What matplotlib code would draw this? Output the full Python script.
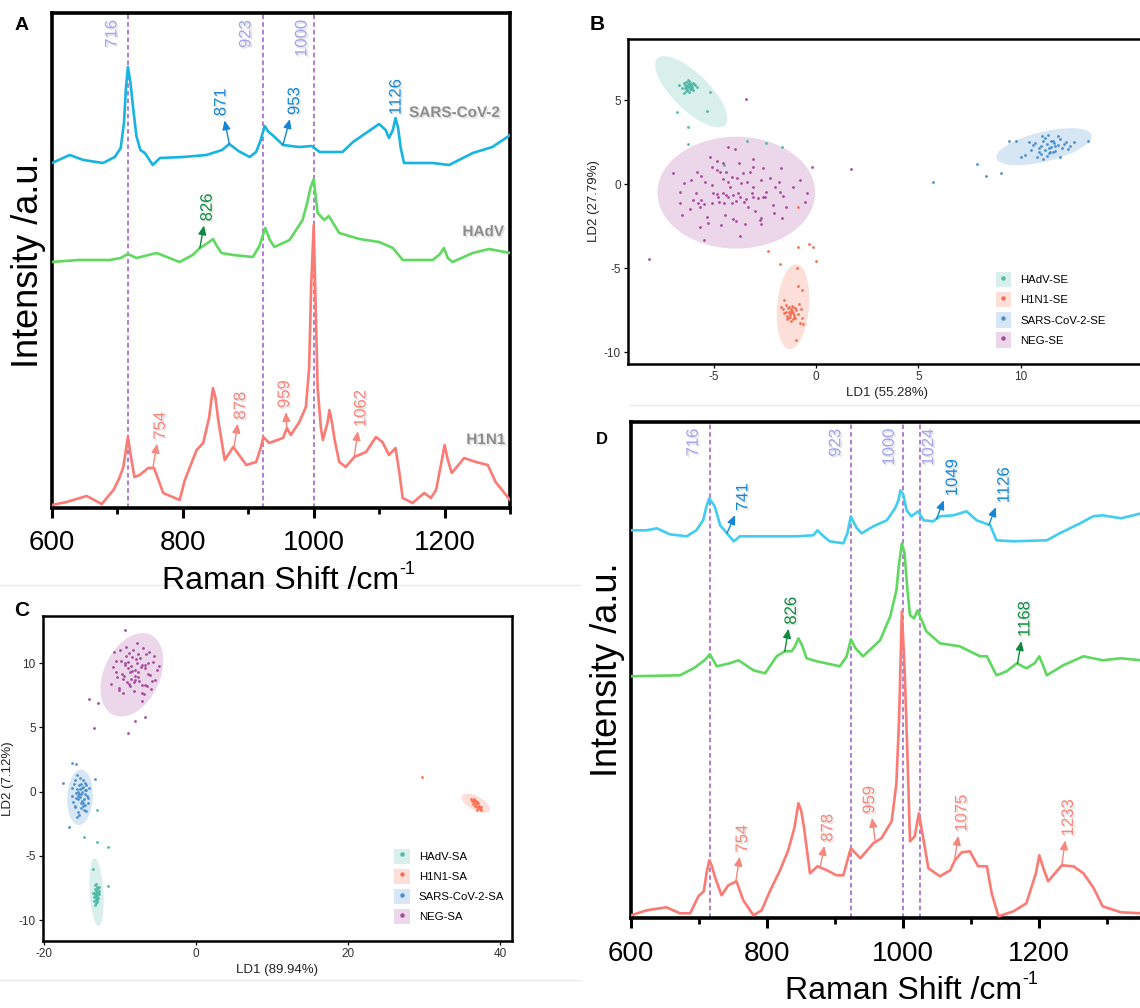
import matplotlib.pyplot as plt
import matplotlib.patheffects as pe
from matplotlib.patches import Patch
from matplotlib.lines import Line2D
import numpy as np

plt.rcParams['font.family'] = ['Liberation Sans', 'DejaVu Sans']
plt.rcParams['axes.unicode_minus'] = False

# ---------------- Panel A: SERS spectra (SE) ----------------
a_sars_wn = [600, 627, 648, 678, 696, 705, 710, 713, 716, 720, 724, 729, 735, 742, 754, 765, 800, 836, 860, 871,
             885, 902, 912, 919, 925, 931, 937, 953, 978, 997, 1009, 1044, 1060, 1080, 1100, 1110, 1115, 1121, 1125, 1129,
             1133, 1138, 1182, 1207, 1243, 1273, 1296, 1300]
a_sars_int = [345, 353, 348, 345, 351, 360, 385, 420, 441, 425, 400, 372, 358, 355, 343, 350, 351, 353, 358, 364,
              357, 351, 356, 368, 382, 376, 373, 363, 361, 362, 356, 356, 366, 375, 384, 378, 370, 378, 390, 380,
              360, 345, 345, 343, 355, 361, 371, 373]
a_hadv_wn = [600, 640, 688, 705, 716, 729, 760, 795, 815, 826, 838, 846, 852, 859, 877, 907, 917, 926, 933, 940,
             963, 983, 990, 995, 1000, 1006, 1016, 1023, 1039, 1070, 1100, 1121, 1136, 1182, 1193, 1199, 1205, 1212, 1243, 1268,
             1300]
a_hadv_int = [246, 248, 248, 250, 254, 250, 255, 246, 253, 260, 265, 269, 262, 255, 253, 251, 262, 280, 268, 261,
              268, 288, 305, 320, 329, 295, 288, 292, 275, 269, 266, 260, 248, 248, 254, 260, 250, 246, 255, 259,
              255]
a_h1n1_wn = [600, 622, 653, 676, 694, 703, 709, 716, 721, 726, 734, 747, 756, 770, 795, 803, 821, 831, 840, 846,
             850, 854, 864, 877, 897, 912, 919, 923, 932, 953, 959, 965, 978, 988, 993, 996, 1000, 1003, 1006, 1011,
             1014, 1021, 1024, 1028, 1032, 1039, 1049, 1062, 1080, 1095, 1105, 1115, 1125, 1131, 1136, 1151, 1169, 1179, 1187, 1195,
             1200, 1205, 1211, 1230, 1248, 1266, 1278, 1300]
a_h1n1_int = [3, 6, 12, 4, 18, 30, 41, 71, 50, 31, 33, 40, 40, 15, 8, 28, 58, 65, 90, 120,
              110, 88, 48, 61, 43, 46, 60, 71, 65, 70, 80, 73, 86, 101, 140, 220, 283, 200, 120, 80,
              68, 85, 98, 85, 68, 46, 41, 51, 56, 71, 66, 53, 60, 35, 10, 5, 15, 10, 18, 45,
              63, 48, 35, 50, 46, 43, 26, 8]
a_peak_lines = [716, 923, 1000]
a_note_labels = ['871', '953', '1126', '826', '754', '878', '959', '1062']
a_note_wn = [871, 953, 1126, 826, 754, 878, 959, 1062]
a_note_series = [0, 0, 0, 1, 2, 2, 2, 2]
a_series_names = ['SARS-CoV-2', 'HAdV', 'H1N1']

# ---------------- Panel D: SERS spectra (SA) ----------------
d_sars_wn = [600, 623, 638, 657, 682, 696, 706, 711, 715, 719, 723, 731, 741, 751, 760, 799, 843, 868, 874, 883,
             892, 912, 918, 923, 928, 932, 939, 956, 976, 988, 993, 996, 1000, 1005, 1012, 1022, 1030, 1044, 1054, 1074,
             1093, 1108, 1128, 1137, 1162, 1211, 1230, 1260, 1279, 1293, 1320, 1350]
d_sars_int = [388, 388, 390, 384, 382, 388, 398, 412, 420, 416, 412, 393, 385, 377, 382, 382, 382, 383, 388, 382,
              377, 375, 385, 402, 395, 390, 385, 392, 398, 410, 418, 428, 424, 408, 402, 407, 398, 397, 402, 403,
              407, 398, 393, 378, 377, 378, 385, 395, 402, 403, 400, 405]
d_hadv_wn = [600, 672, 692, 708, 716, 726, 745, 758, 780, 797, 814, 826, 836, 841, 846, 852, 858, 873, 907, 917,
             923, 930, 941, 966, 981, 990, 994, 998, 1002, 1006, 1010, 1016, 1021, 1034, 1054, 1083, 1113, 1123, 1137, 1152,
             1167, 1181, 1193, 1200, 1206, 1211, 1235, 1265, 1293, 1320, 1350]
d_hadv_int = [242, 243, 250, 258, 264, 252, 255, 258, 248, 245, 262, 267, 267, 272, 280, 272, 260, 257, 252, 262,
              279, 270, 262, 278, 302, 328, 355, 375, 365, 330, 303, 300, 308, 287, 275, 272, 262, 262, 243, 247,
              255, 250, 255, 262, 252, 243, 253, 262, 258, 260, 258]
d_h1n1_wn = [600, 623, 652, 672, 687, 699, 707, 711, 715, 719, 723, 733, 743, 755, 765, 780, 792, 804, 819, 831,
             840, 846, 850, 854, 863, 874, 888, 902, 912, 918, 923, 930, 937, 956, 968, 983, 990, 994, 998, 1002,
             1006, 1010, 1017, 1023, 1030, 1037, 1054, 1069, 1076, 1086, 1098, 1110, 1123, 1130, 1140, 1162, 1181, 1195, 1200, 1206,
             1213, 1233, 1250, 1265, 1280, 1293, 1320, 1350]
d_h1n1_int = [3, 8, 11, 5, 5, 22, 27, 45, 58, 52, 42, 23, 33, 37, 18, 3, 8, 27, 48, 68,
              90, 115, 108, 92, 45, 52, 48, 43, 43, 58, 70, 65, 60, 75, 80, 97, 135, 200, 307, 250,
              168, 77, 82, 105, 78, 50, 42, 48, 58, 66, 67, 52, 52, 25, 2, 7, 15, 45, 63, 50,
              37, 53, 52, 45, 30, 12, 6, 5]
d_peak_lines = [716, 923, 1000, 1024]
d_note_labels = ['741', '1049', '1126', '826', '1168', '754', '878', '959', '1075', '1233']
d_note_wn = [741, 1049, 1126, 826, 1168, 754, 878, 959, 1075, 1233]
d_note_series = [0, 0, 0, 1, 1, 2, 2, 2, 2, 2]

# ---------------- Panel B: LDA (SE) ----------------
b_groups = ['HAdV-SE', 'H1N1-SE', 'SARS-CoV-2-SE', 'NEG-SE']
b_hadv_x = [-6.55, -6.42, -6.33, -6.24, -6.15, -6.05, -5.97, -6.28, -6.37, -6.18, -6.09, -5.92, -6.46, -6.31, -6.21, -6.12,
            -6.01, -6.27, -6.17, -6.08, -6.39, -5.99, -6.23, -6.13, -6.34, -6.03, -6.70, -5.82, -6.44, -6.16, -6.26, -6.11,
            -6.81, -5.34, -5.18, -6.27, -6.27, -3.39, -2.46, -1.65, -4.49]
b_hadv_y = [5.72, 5.91, 6.08, 5.83, 6.02, 5.76, 5.95, 5.62, 5.86, 6.15, 5.66, 5.89, 6.01, 5.71, 5.48, 5.84,
            6.06, 5.96, 5.79, 5.92, 5.75, 5.61, 6.2, 5.69, 5.55, 5.81, 5.93, 5.78, 5.42, 5.98, 5.88, 5.74,
            4.28, 4.38, 5.47, 3.39, 2.38, 2.58, 2.44, 2.2, 1.15]
b_h1n1_x = [-1.62, -1.48, -1.35, -1.25, -1.15, -1.05, -0.95, -1.42, -1.30, -1.20, -1.10, -1.00, -1.38, -1.28, -1.18, -1.08,
            -1.33, -1.23, -1.13, -1.45, -0.88, -1.58, -1.22, -1.12, -1.02, -0.75, -1.70, -1.40, -0.82, -1.27, -1.17, -0.68,
            -2.33, -1.76, -0.86, -0.34, -0.13, 0.0, -0.91, -0.86, -0.70, -0.97, -0.78, -0.9, -1.55, -0.62]
b_h1n1_y = [-7.45, -7.62, -7.38, -7.70, -7.52, -7.80, -7.48, -7.85, -7.58, -7.42, -7.66, -7.35, -7.95, -7.74, -7.60, -7.90,
            -7.28, -7.55, -8.05, -7.20, -7.75, -7.68, -8.15, -7.30, -7.98, -7.40, -7.30, -8.00, -7.10, -7.88, -7.25, -7.95,
            -3.95, -4.76, -3.71, -3.53, -3.71, -4.56, -5.0, -6.05, -6.30, -9.27, -8.24, -1.33, -6.9, -8.3]
b_sars_x = [10.2, 10.5, 10.7, 10.9, 11.0, 11.1, 11.2, 11.3, 11.4, 11.5, 11.6, 11.7, 11.8, 11.9, 12.0, 12.2, 12.4, 10.8, 11.0, 11.2,
            11.4, 11.6, 11.8, 12.1, 10.6, 10.9, 11.3, 11.5, 11.7, 12.3, 10.4, 11.1, 11.45, 11.65, 11.9, 12.6, 10.0, 9.75, 11.05, 11.35,
            5.7, 7.88, 8.31, 9.02, 9.45, 13.3]
b_sars_y = [1.75, 2.05, 2.45, 1.95, 2.3, 2.6, 2.05, 2.4, 1.85, 2.2, 2.55, 2.0, 2.35, 2.7, 2.15, 2.5, 2.3, 1.6, 1.8, 2.75,
            2.15, 1.95, 2.85, 2.4, 2.35, 2.15, 1.7, 2.6, 2.25, 2.1, 2.5, 1.5, 1.9, 2.45, 1.65, 2.5, 1.65, 2.6, 2.9, 2.95,
            0.16, 1.18, 0.51, 0.69, 2.55, 2.56]
b_neg_x = [-6.97, -6.45, -5.83, -5.59, -5.42, -5.18, -5.10, -4.85, -4.82, -4.69, -4.53, -4.37, -4.32, -4.28, -4.12, -3.96,
           -3.88, -3.75, -3.68, -3.55, -3.39, -3.23, -3.09, -3.06, -2.66, -2.61, -2.25, -1.79, -1.73, -6.64, -6.56, -6.16,
           -5.99, -5.75, -5.67, -5.46, -5.34, -5.26, -5.10, -5.05, -4.85, -4.77, -4.72, -4.56, -4.45, -4.37, -4.28, -4.12,
           -4.04, -3.91, -3.80, -3.71, -3.52, -3.42, -3.31, -3.14, -3.06, -2.82, -2.74, -2.66, -2.61, -2.49, -2.44, -2.09,
           -1.76, -1.68, -1.60, -1.47, -0.54, -0.46, -5.67, -5.47, -4.07, -3.91, -3.71, -3.47, -2.70, -5.86, -5.59, -4.50,
           -4.20, -3.06, -2.00, -6.64, -1.14, -0.78, -4.53, -5.10, -8.14, -3.42, 1.69, -0.21, -4.62, -2.98, -6.12, -2.05]
b_neg_y = [0.65, 0.10, 0.75, 0.49, 0.16, 1.64, 1.05, 1.41, 0.85, 0.71, 1.25, 0.75, 2.24, 0.12, 0.45, 2.08,
           0.35, 1.25, 0.06, 0.65, 0.16, 0.75, 1.49, 1.05, 0.26, 0.95, 0.35, 0.12, 0.99, -1.13, -1.83, -1.49,
           -0.93, -1.09, -1.37, -1.17, -1.93, -2.28, -1.13, -0.50, -0.60, -0.78, -1.03, -0.50, -1.83, -0.64, -0.74, -1.13,
           -0.64, -0.99, -0.50, -0.74, -1.03, -0.90, -1.33, -0.50, -0.74, -0.84, -2.13, -2.03, -0.74, -0.78, -0.44, -1.23,
           -0.44, -2.03, -0.70, -1.37, -1.03, -0.50, -2.52, -3.32, -2.09, -2.16, -3.08, -2.36, -2.36, -0.50, -0.93, -1.13,
           -0.14, -0.14, -0.14, -0.44, -0.14, 0.26, 0.30, -0.04, -4.43, 5.10, 0.91, 1.01, -2.45, -1.62, 0.28, -1.72]
# confidence ellipses: centre and two conjugate semi-axes (data units)
b_ellipses = [((-6.09, 5.51), (1.65, -1.975), (0.62, 0.76)),
              ((-1.12, -7.29), (0.15, 2.53), (0.78, 0.0)),
              ((11.14, 2.24), (2.32, 0.69), (0.17, -0.86)),
              ((-3.89, -0.5), (3.85, 0.0), (0.0, 3.33))]

# ---------------- Panel C: LDA (SA) ----------------
c_groups = ['HAdV-SA', 'H1N1-SA', 'SARS-CoV-2-SA', 'NEG-SA']
c_hadv_x = [-13.5, -13.4, -13.3, -13.2, -13.1, -13.0, -12.9, -12.8, -13.45, -13.35, -13.25, -13.15, -13.05, -12.95,
            -12.85, -13.3, -13.2, -13.1, -13.0, -13.25, -13.15, -13.05, -12.95, -13.35, -12.75, -13.55, -13.2, -13.1,
            -13.59, -11.62, -14.83, -13.03, -11.62, -13.03]
c_hadv_y = [-7.9, -8.2, -7.6, -8.4, -7.8, -8.1, -7.5, -8.0, -8.5, -7.3, -8.3, -7.7, -8.6, -7.9,
            -7.4, -8.8, -7.2, -8.2, -8.45, -7.95, -8.65, -7.55, -8.25, -8.05, -7.7, -7.85, -8.0, -7.4,
            -6.05, -7.34, -3.5, -3.89, -4.33, -1.43]
c_h1n1_x = [36.1, 36.3, 36.5, 36.6, 36.8, 36.9, 37.0, 37.2, 37.3, 37.5, 36.4, 36.7, 37.1, 37.4, 36.95, 36.55, 37.25, 36.75,
            29.64]
c_h1n1_y = [-0.55, -0.7, -0.8, -0.6, -0.95, -0.8, -1.2, -1.1, -1.35, -1.4, -0.95, -1.1, -0.9, -1.2, -1.45, -0.65, -1.3, -0.75,
            1.17]
c_sars_x = [-16.4, -16.1, -15.9, -15.7, -15.5, -15.3, -15.1, -14.9, -14.7, -14.5, -14.3, -14.1,
            -16.2, -16.0, -15.8, -15.6, -15.4, -15.2, -15.0, -14.8, -14.6, -14.4, -14.2,
            -16.3, -15.85, -15.65, -15.45, -15.25, -15.05, -14.85, -14.65, -14.45,
            -15.95, -15.55, -15.35, -15.15, -14.95, -14.75, -14.55, -15.75, -15.4, -15.0, -14.7, -15.2, -15.6, -14.9,
            -17.55, -16.36, -15.88, -13.33, -16.76]
c_sars_y = [-0.3, 0.6, -1.2, 0.2, -0.6, 1.1, -0.2, 0.4, -1.0, 0.1, -0.5, 0.3,
            -0.8, 0.9, -0.1, -1.6, 0.5, -0.9, 0.0, -1.4, 0.7, -0.3, -0.9,
            0.3, -0.5, 1.3, -1.8, 0.2, -0.7, 0.9, -0.2, 0.5,
            -1.1, 0.0, -0.4, 0.6, -1.1, -0.6, -1.5, -2.0, -0.2, 0.3, 0.1, -1.3, -0.35, -0.85,
            0.65, 2.21, 2.16, 0.98, -2.75]
c_neg_x = [-11.2, -10.8, -10.5, -10.2, -9.9, -9.6, -9.3, -9.0, -8.7, -8.4, -8.1, -7.8, -7.5, -7.2, -6.9, -6.6, -6.3, -6.0,
           -5.7, -5.4, -5.1, -4.9, -10.9, -10.4, -10.0, -9.7, -9.4, -9.1, -8.8, -8.5, -8.2, -7.9, -7.6, -7.3, -7.0, -6.7,
           -6.4, -6.1, -5.8, -5.5, -10.6, -10.1, -9.5, -9.2, -8.9, -8.6, -8.3, -8.0, -7.7, -7.4, -7.1, -6.8, -6.5, -6.2,
           -9.8, -9.0, -8.55, -8.1, -7.65, -7.2, -6.75, -9.35, -8.75, -8.25, -7.85,
           -9.43, -14.13, -12.86, -13.5, -9.0, -8.03, -6.8, -7.15]
c_neg_y = [8.4, 10.9, 9.3, 7.9, 10.2, 8.8, 11.3, 9.6, 8.2, 10.5, 9.0, 11.6, 8.6, 9.9, 7.6, 10.7, 9.2, 8.0,
           10.1, 8.7, 9.5, 9.8, 9.7, 8.9, 11.0, 7.7, 10.0, 8.5, 10.8, 9.4, 7.8, 10.3, 8.9, 9.7, 11.2, 8.3,
           10.0, 9.1, 8.6, 10.6, 10.2, 8.1, 9.0, 10.6, 8.4, 9.8, 11.0, 8.7, 9.3, 10.4, 7.7, 9.6, 8.2, 10.9,
           9.2, 10.1, 8.8, 9.5, 10.7, 8.3, 9.9, 9.9, 9.3, 8.5, 10.0,
           12.58, 7.24, 6.88, 4.98, 4.59, 5.53, 5.79, 7.06]
c_ellipses = [((-13.12, -7.82), (-0.26, 2.63), (0.9, 0.0)),
              ((36.78, -0.9), (1.82, -0.575), (-0.43, -0.48)),
              ((-15.29, -0.43), (0.15, 2.16), (1.68, 0.0)),
              ((-8.47, 9.1), (2.5, 3.1), (3.29, -0.97))]

group_colors = ['#4fb8a6', '#f66f52', '#4a8fd0', '#a54a9d']

fig = plt.figure(figsize=(11.4, 10.08), dpi=100)
W, H = 1140, 1008


def add_axes_px(left, top, right, bottom):
    return fig.add_axes([left / W, 1 - bottom / H, (right - left) / W, (bottom - top) / H])


shadow = [pe.withSimplePatchShadow(offset=(1.2, -1.2), shadow_rgbFace='0.6', alpha=0.28)]


def spectra_panel(ax, wns, ints, line_colors, note_colors, peak_lines, line_dx,
                  note_labels, note_wn, note_series, note_offsets, note_arrows, xmax, ymax):
    for wn, y, c in zip(wns, ints, line_colors):
        ax.plot(wn, y, color=c, lw=1.9, zorder=3, solid_joinstyle='round')
    for x0, dx in zip(peak_lines, line_dx):
        ax.axvline(x0, color='#9b59c6', lw=1.1, ls=(0, (3, 2)), zorder=2)
        ax.annotate(str(x0), xy=(x0, 1), xycoords=('data', 'axes fraction'), xytext=(dx, -5),
                    textcoords='offset points', rotation=90, ha='center', va='top',
                    fontsize=12, color='#a3a3ee', path_effects=shadow)
    for label, w0, k, (dx, dy), arrow in zip(note_labels, note_wn, note_series, note_offsets, note_arrows):
        y0 = np.interp(w0, wns[k], ints[k])
        c = note_colors[k]
        props = None
        if arrow:
            props = dict(arrowstyle='<|-,head_length=0.45,head_width=0.2', color=c, lw=1.0,
                         shrinkA=1, shrinkB=0)
        ax.annotate(label, xy=(w0, y0), xytext=(dx, dy), textcoords='offset points', rotation=90,
                    ha='center', va='bottom', fontsize=12, color=c, arrowprops=props,
                    path_effects=shadow, zorder=5)
    ax.set_xlim(600, xmax)
    ax.set_ylim(0, ymax)
    ax.set_yticks([])
    ax.set_xticks([600, 800, 1000, 1200])
    ax.set_xticks([700, 900, 1100, 1300], minor=True)
    ax.tick_params(axis='x', which='major', direction='out', length=7, width=2.2, labelsize=20, pad=9)
    ax.tick_params(axis='x', which='minor', direction='out', length=4, width=2)
    for s in ax.spines.values():
        s.set_linewidth(2.6)
    ax.set_xlabel('Raman Shift /cm', fontsize=23, labelpad=7)
    ax.annotate('-1', xy=(1.0, 0.88), xycoords=ax.xaxis.label, ha='left', va='center', fontsize=13)
    ax.set_ylabel('Intensity /a.u.', fontsize=26, labelpad=4)


def ellipse_xy(center, a, b):
    t = np.linspace(0, 2 * np.pi, 200)
    ex = center[0] + a[0] * np.cos(t) + b[0] * np.sin(t)
    ey = center[1] + a[1] * np.cos(t) + b[1] * np.sin(t)
    return ex, ey


def lda_panel(ax, names, xs, ys, ellipses, xlim, ylim, xticks, yticks, xlabel, ylabel, leg_anchor):
    for x, y, (cen, a, b), c in zip(xs, ys, ellipses, group_colors):
        ex, ey = ellipse_xy(cen, a, b)
        ax.fill(ex, ey, color=c, alpha=0.22, lw=0, zorder=1)
        ax.scatter(x, y, s=4, color=c, lw=0, zorder=3)
    ax.set_xlim(*xlim)
    ax.set_ylim(*ylim)
    ax.set_xticks(xticks)
    ax.set_yticks(yticks)
    ax.tick_params(direction='out', length=3, width=0.9, labelsize=8.5, labelcolor='#333333', pad=2)
    for s in ax.spines.values():
        s.set_linewidth(1.8)
    ax.set_xlabel(xlabel, fontsize=9.5, color='#222222', labelpad=3)
    ax.set_ylabel(ylabel, fontsize=9.5, color='#222222', labelpad=3)
    handles = [(Patch(facecolor=c, alpha=0.22, edgecolor='none'),
                Line2D([], [], ls='', marker='o', ms=2.2, color=c)) for c in group_colors]
    ax.legend(handles, names, loc='lower left', bbox_to_anchor=leg_anchor, frameon=False, fontsize=8.2,
              handlelength=1.35, handleheight=1.7, labelspacing=0.42, handletextpad=0.8,
              borderpad=0, borderaxespad=0)


# faint panel separators (behind everything)
for (x0, x1, y) in [(0, 580, 585), (630, 1140, 405), (0, 580, 980)]:
    fig.add_artist(Line2D([x0 / W, x1 / W], [1 - y / H, 1 - y / H], color='#e8e8e8', lw=1,
                          transform=fig.transFigure, zorder=-5))

# panel A
ax_a = add_axes_px(52, 13, 510, 508)
spectra_panel(ax_a, [a_sars_wn, a_hadv_wn, a_h1n1_wn], [a_sars_int, a_hadv_int, a_h1n1_int],
              ['#17b4e2', '#5fd95f', '#fb7a74'], ['#1585d5', '#0e8a3e', '#f7867d'],
              a_peak_lines, [-11.5, -12.5, -8.5],
              a_note_labels, a_note_wn, a_note_series,
              [(-6, 20), (8.4, 21.6), (0, 4), (5.3, 19.2), (5.5, 20.4), (4.8, 20.4), (-1.7, 14.4), (4.8, 21.6)],
              [True, True, False, True, True, True, True, True], 1300, 495)
name_pos = [(1215, 395), (1259, 276), (1263, 68)]
for name, (x, y) in zip(a_series_names, name_pos):
    ax_a.text(x, y, name, ha='center', va='center', fontsize=11, fontweight='bold', color='#8c8c8c',
              path_effects=shadow)

# panel D
ax_d = add_axes_px(631, 421.7, 631 + 800 * 0.6805, 918.3)
spectra_panel(ax_d, [d_sars_wn, d_hadv_wn, d_h1n1_wn], [d_sars_int, d_hadv_int, d_h1n1_int],
              ['#40cdf0', '#5fd85f', '#fb7a74'], ['#1585d5', '#0e8a3e', '#f7867d'],
              d_peak_lines, [-12, -10.8, -10, 6.6],
              d_note_labels, d_note_wn, d_note_series,
              [(11.5, 16), (11.5, 16.3), (11, 15.6), (4.8, 19.2), (5.3, 19.2), (4.8, 20.9), (5.5, 18.5),
               (-4.1, 20.4), (5.5, 21.6), (4.8, 20.9)],
              [True] * 10, 1400, 496.6)

# panel B
ax_b = add_axes_px(628, 39, 1146, 364)
lda_panel(ax_b, b_groups, [b_hadv_x, b_h1n1_x, b_sars_x, b_neg_x], [b_hadv_y, b_h1n1_y, b_sars_y, b_neg_y],
          b_ellipses, (-9.18, (1146 - 816) / 20.47), (-10.7, 8.65), [-5, 0, 5, 10], [-10, -5, 0, 5],
          'LD1 (55.28%)', 'LD2 (27.79%)', (0.71, 0.05))

# panel C
ax_c = add_axes_px(42.7, 615.7, 511.7, 940.7)
lda_panel(ax_c, c_groups, [c_hadv_x, c_h1n1_x, c_sars_x, c_neg_x], [c_hadv_y, c_h1n1_y, c_sars_y, c_neg_y],
          c_ellipses, (-20.2, 41.5), (-11.6, 13.7), [-20, 0, 20, 40], [-10, -5, 0, 5, 10],
          'LD1 (89.94%)', 'LD2 (7.12%)', (0.75, 0.05))

# panel letters
for letter, (x, y), fs in zip('ABCD', [(22, 25), (597, 25), (22, 611), (602, 440)], [14, 15, 15, 12]):
    fig.text(x / W, 1 - y / H, letter, fontsize=fs, fontweight='bold', ha='center', va='center')

fig.savefig('out.png', dpi=100)
